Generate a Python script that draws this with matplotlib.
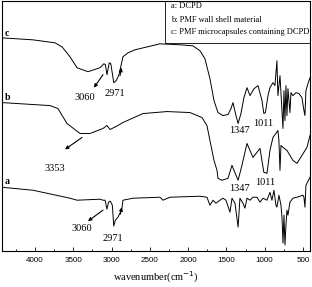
import matplotlib
matplotlib.use("Agg")
import matplotlib.pyplot as plt
from matplotlib.patches import Rectangle
from matplotlib.ticker import MultipleLocator

# FTIR spectra, transmittance in arbitrary (offset) units
wn_a = [4431, 4026, 3543, 3451, 3151, 3112, 3085, 3060, 3040, 3015, 2990, 2971, 2950, 2916,
        2890, 2864, 2851, 2720, 2368, 2328, 2237, 1845, 1754, 1715, 1675, 1636, 1584, 1545,
        1506, 1453, 1427, 1388, 1347, 1323, 1284, 1258, 1231, 1192, 1153, 1101, 1061, 1022,
        970, 931, 905, 879, 853, 840, 814, 787, 774, 761, 748, 735, 722, 709, 696, 670, 631,
        578, 500, 487, 474, 461, 448, 408]
t_a = [58, 55, 47, 45, 46, 45, 45, 36, 43, 44, 40, 19, 25, 28,
       32, 37, 45, 47, 48, 45, 48, 49, 48, 40, 45, 42, 45, 47,
       45, 33, 47, 42, 18, 47, 42, 37, 47, 45, 48, 48, 43, 47,
       45, 53, 45, 55, 40, 38, 50, 40, 28, 2, 30, 0, 20, 35, 30, 43, 47,
       48, 50, 48, 38, 60, 62, 68]

wn_b = [4431, 3804, 3700, 3582, 3412, 3282, 3112, 3060, 3020, 2940, 2851, 2590, 2276,
        1976, 1819, 1754, 1715, 1662, 1623, 1610, 1558, 1479, 1427, 1401, 1347, 1297, 1231,
        1192, 1153, 1061, 1011, 970, 931, 892, 853, 827, 814, 800, 787, 761, 709, 670, 631,
        578, 513, 448, 408]
t_b = [143, 140, 137, 122, 112, 112, 117, 120, 116, 119, 123, 132, 134,
       133, 128, 120, 105, 85, 75, 67, 65, 67, 80, 75, 65, 80, 102,
       95, 88, 97, 73, 72, 95, 108, 112, 115, 105, 75, 100, 98, 95, 90, 85,
       82, 90, 98, 110]

wn_c = [4431, 4026, 3739, 3647, 3543, 3451, 3308, 3151, 3100, 3080, 3060, 3030, 3010, 2971,
        2940, 2920, 2900, 2877, 2851, 2785, 2694, 2368, 2100, 1937, 1845, 1780, 1715, 1662,
        1610, 1545, 1479, 1440, 1414, 1375, 1347, 1310, 1271, 1231, 1192, 1139, 1087, 1035,
        1011, 990, 957, 931, 892, 866, 840, 827, 800, 774, 761, 748, 735, 722, 709, 696, 670,
        657, 631, 591, 552, 513, 487, 474, 461, 435, 408]
t_c = [208, 206, 203, 199, 189, 178, 174, 178, 182, 181, 171, 183, 182, 163,
       165, 168, 172, 180, 189, 193, 196, 202, 201, 200, 195, 187, 167, 145,
       133, 130, 131, 137, 143, 130, 122, 132, 148, 158, 150, 157, 160, 145,
       132, 133, 150, 158, 163, 160, 185, 150, 170, 135, 117, 155, 125, 160, 130, 157, 133,
       153, 150, 153, 152, 148, 135, 130, 155, 162, 168]

legend_lines = ["a: DCPD", "b: PMF wall shell material", "c: PMF microcapsules containing DCPD"]

serif = "Liberation Serif"
sans = "Liberation Sans"

fig = plt.figure(figsize=(3.12, 2.87), dpi=100)
ax = fig.add_axes([2 / 312, 36 / 287, 308 / 312, 250 / 287])

for wn, t in [(wn_a, t_a), (wn_b, t_b), (wn_c, t_c)]:
    ax.plot(wn, t, color="black", lw=0.7)

ax.set_xlim(4431, 408)
ax.set_ylim(-6, 245)
ax.set_yticks([])
ax.xaxis.set_major_locator(MultipleLocator(500))
ax.xaxis.set_minor_locator(MultipleLocator(250))
ax.tick_params(axis="x", which="major", direction="in", length=3, width=0.6,
               labelsize=5.8, pad=4.5)
ax.tick_params(axis="x", which="minor", direction="in", length=1.8, width=0.6)
for lbl in ax.get_xticklabels():
    lbl.set_fontfamily(sans)
for s in ax.spines.values():
    s.set_linewidth(0.8)
ax.set_xlabel("wavenumber(cm$^{-1}$)", fontsize=7.5, family=serif, labelpad=4)

# curve letters
for letter, y in [("c", 0.87), ("b", 0.615), ("a", 0.28)]:
    ax.text(0.008, y, letter, transform=ax.transAxes, fontsize=7, family=serif,
            fontweight="bold", va="center", ha="left")

# peak labels
peaks = [("3060", 3347, 148), ("2971", 2955, 152), ("3353", 3739, 77),
         ("3060", 3386, 17), ("2971", 2981, 7), ("1347", 1323, 115),
         ("1011", 1022, 122), ("1347", 1323, 57), ("1011", 996, 63)]
for txt, x, y in peaks:
    ax.text(x, y, txt, fontsize=7.5, family=serif, ha="center", va="center")

arrows = [((3112, 171), (3230, 158)), ((2890, 170), (2870, 178)),
          ((3386, 108), (3608, 96)), ((3112, 35), (3308, 24)),
          ((2885, 31), (2866, 38))]
for tail, head in arrows:
    ax.annotate("", xy=head, xytext=tail,
                arrowprops=dict(arrowstyle="-|>", color="black", lw=0.8,
                                mutation_scale=5, shrinkA=0, shrinkB=0))

# legend box
ax.add_patch(Rectangle((0.529, 0.832), 0.471, 0.168, transform=ax.transAxes,
                       fill=False, lw=0.6, edgecolor="black"))
for i, line in enumerate(legend_lines):
    ax.text(0.549, 0.978 - i * 0.052, line, transform=ax.transAxes, fontsize=6,
            family=serif, va="center", ha="left")

fig.savefig("out.png", dpi=100)
